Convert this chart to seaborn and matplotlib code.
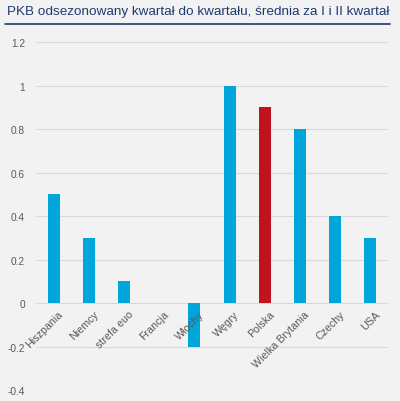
"""
PKB odsezonowany q/q - srednia za I i II kwartal
"""

import pandas as pd
import matplotlib.pyplot as plt
import seaborn as sns

countries = ["Hiszpania", "Niemcy", "strefa euo", "Francja", "Włochy",
             "Węgry", "Polska", "Wielka Brytania", "Czechy", "USA"]
gdp_qoq = [0.5, 0.3, 0.1, 0.0, -0.2, 1.0, 0.9, 0.8, 0.4, 0.3]
y_ticks = [-0.4, -0.2, 0, 0.2, 0.4, 0.6, 0.8, 1, 1.2]

BLUE = "#00a5dc"
RED = "#c1121f"
BG = "#f2f2f2"

sns.set_theme(style="white")
plt.rcParams["font.family"] = ["Liberation Sans", "DejaVu Sans"]

df = pd.DataFrame({"kraj": countries, "pkb": gdp_qoq})
palette = {c: (RED if c == "Polska" else BLUE) for c in countries}

fig = plt.figure(figsize=(4.0, 4.02), dpi=100, facecolor=BG)
ax = fig.add_axes([0.09, 0.027, 0.88, 0.866])
ax.set_facecolor(BG)

sns.barplot(data=df, x="kraj", y="pkb", hue="kraj", palette=palette,
            width=0.34, legend=False, ax=ax, saturation=1, linewidth=0)

ax.set_ylim(-0.4, 1.2)
ax.set_xlim(-0.5, len(countries) - 0.5)
ax.set_yticks(y_ticks)
ax.set_yticklabels([f"{t:g}" for t in y_ticks], fontsize=7.3, color="#595959")
ax.tick_params(axis="y", length=0, pad=8)
ax.set_xticks([])
ax.set_xlabel("")
ax.set_ylabel("")
ax.grid(axis="y", color="#d9d9d9", linewidth=0.8)
ax.set_axisbelow(True)
sns.despine(ax=ax, left=True, bottom=True, top=True, right=True)

# category labels sit under the zero line, rotated
for i, name in enumerate(countries):
    ax.text(i + 0.12, -0.025, name, rotation=45, ha="right", va="top",
            rotation_mode="anchor", fontsize=7.7, color="#595959")

fig.text(0.018, 0.97, "PKB odsezonowany kwartał do kwartału, średnia za I i II kwartał",
         fontsize=9.7, color="#1f3a70", ha="left", va="center")
fig.add_artist(plt.Line2D([0.012, 0.975], [0.937, 0.937], color="#1f3a70",
                          linewidth=1.2, transform=fig.transFigure))

fig.savefig("out.png", dpi=100, facecolor=BG)
